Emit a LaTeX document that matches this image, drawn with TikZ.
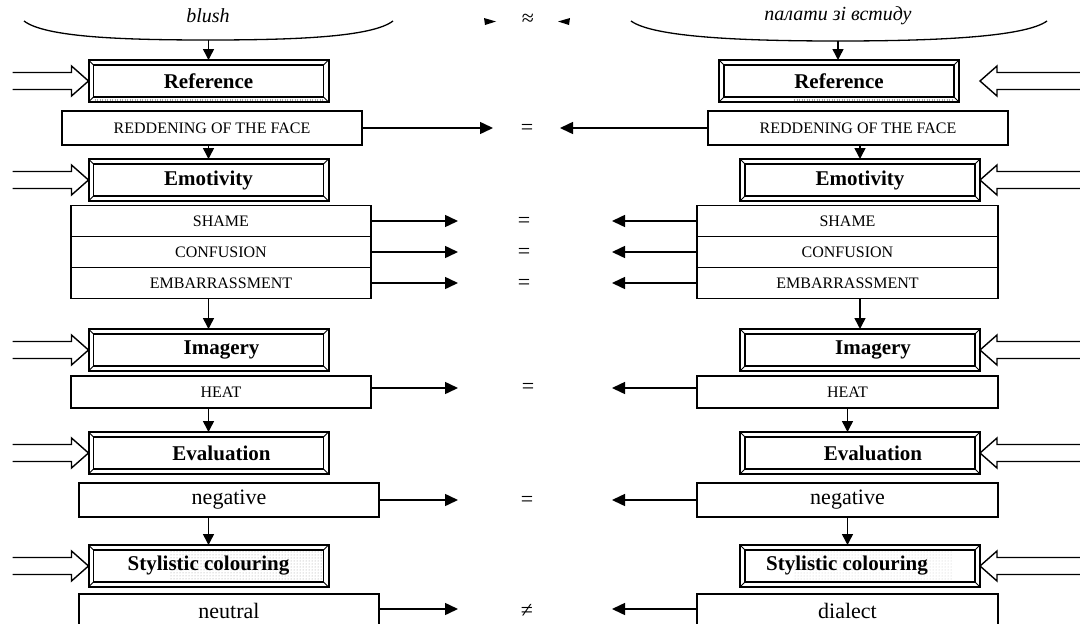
\documentclass[tikz,border=0pt]{standalone}
\usepackage{fontspec}
\setmainfont{Liberation Serif}
\usetikzlibrary{arrows.meta,calc,patterns,backgrounds}

\tikzset{
  header/.style={draw, line width=2pt, outer sep=0pt, minimum width=240pt, minimum height=42pt,
    inner sep=0pt, font=\fontsize{21}{24}\selectfont\bfseries},
  itembox/.style={draw, line width=1.5pt, outer sep=0pt, minimum width=300pt, inner sep=0pt},
  caps/.style={itembox, minimum height=31pt, font=\fontsize{16}{18}\selectfont},
  word/.style={itembox, minimum height=34pt, font=\fontsize{22}{24}\selectfont},
  link/.style={line width=1.5pt, -{Triangle[length=13pt,width=12pt]}},
  down/.style={line width=1.5pt, -{Triangle[length=11pt,width=11pt]}},
  hollow/.style={line width=1.4pt},
  rel/.style={font=\fontsize{22}{24}\selectfont, inner sep=0pt},
  term/.style={font=\fontsize{20}{22}\selectfont\itshape, inner sep=0pt},
  brace/.style={line width=1.3pt},
}

% inner frame and corner bevels of a header box
\newcommand\bevel[1]{%
  \draw[line width=1.2pt] ([shift={(5pt,-5pt)}]#1.north west) rectangle ([shift={(-5pt,5pt)}]#1.south east);
  \draw[line width=1pt] (#1.north west) -- ++(5pt,-5pt) (#1.north east) -- ++(-5pt,-5pt)
    (#1.south west) -- ++(5pt,5pt) (#1.south east) -- ++(-5pt,5pt);}
% hollow double arrow coming in from the left edge
\newcommand\feedL[1]{%
  \draw[hollow] ([shift={(-76pt,8.5pt)}]#1) -- ++(59pt,0pt) -- ++(0pt,6.5pt) -- (#1)
    -- ++(-17pt,-15pt) -- ++(0pt,6.5pt) -- ++(-59pt,0pt);}
% hollow double arrow coming in from the right edge
\newcommand\feedR[1]{%
  \draw[hollow] ([shift={(100pt,8.5pt)}]#1) -- ++(-83pt,0pt) -- ++(0pt,6.5pt) -- (#1)
    -- ++(17pt,-15pt) -- ++(0pt,6.5pt) -- ++(83pt,0pt);}

\begin{document}
\begin{tikzpicture}[x=1pt,y=-1pt]
\useasboundingbox (0,0) rectangle (1080,624);
\clip (0,0) rectangle (1080,624);

% ---- terms and braces ----
\node[term] (t1) at (208,16) {blush};
\node[term] (t2) at (838,16) {палати зі встиду};
\draw[brace] (24,21) .. controls (45,37) and (120,40) .. (208,40) .. controls (296,40) and (372,37) .. (393,21);
\draw[brace] (631,21) .. controls (653,37) and (740,41) .. (838,41) .. controls (936,41) and (1025,37) .. (1047,21);
\coordinate (b1) at (208.5,40);
\coordinate (b2) at (838,41);

\node[rel] (approx) at (528,20) {≈};
\fill (484,18) -- (496,21.5) -- (485,25) -- cycle;
\fill (570,18) -- (558,21.5) -- (569,25) -- cycle;

% ---- left column ----
\node[header] (ref1) at (208.5,81) {Reference};
\node[caps, minimum height=34pt] (red1) at (212,128) {REDDENING OF THE FACE};
\node[header] (emo1) at (208.5,180) {Emotivity};
\node[caps] (sh1) at (221,221) {SHAME};
\node[caps] (con1) at (221,252) {CONFUSION};
\node[caps] (emb1) at (221,283) {EMBARRASSMENT};
\node[header] (img1) at (208.5,350) {\hspace*{26pt}Imagery};
\node[caps, minimum height=32pt] (heat1) at (221,392) {HEAT};
\node[header] (eva1) at (208.5,453) {\hspace*{26pt}Evaluation};
\node[word] (neg1) at (229,500) {negative};
\node[header] (sty1) at (208.5,566) {Stylistic colouring};
\node[word] (neu1) at (229,611) {neutral};

% ---- right column ----
\node[header] (ref2) at (839,81) {Reference};
\node[caps, minimum height=34pt] (red2) at (858,128) {REDDENING OF THE FACE};
\node[header] (emo2) at (860,180) {Emotivity};
\node[caps, minimum width=301pt] (sh2) at (847.5,221) {SHAME};
\node[caps, minimum width=301pt] (con2) at (847.5,252) {CONFUSION};
\node[caps, minimum width=301pt] (emb2) at (847.5,283) {EMBARRASSMENT};
\node[header] (img2) at (860,350) {\hspace*{26pt}Imagery};
\node[caps, minimum width=301pt, minimum height=32pt] (heat2) at (847.5,392) {HEAT};
\node[header] (eva2) at (860,453) {\hspace*{26pt}Evaluation};
\node[word, minimum width=301pt] (neg2) at (847.5,500) {negative};
\node[header] (sty2) at (860,566) {Stylistic colouring\hspace*{26pt}};
\node[word, minimum width=301pt] (dia2) at (847.5,611) {dialect};

% shading inside some header frames
\begin{scope}[on background layer]
  \fill[pattern=dots, pattern color=gray!80] (169,550) rectangle (322,582);
  \fill[pattern=dots, pattern color=gray!45] (793,550) rectangle (952,582);
\end{scope}
\draw[gray!70, line width=2pt, dash pattern=on 1pt off 1.5pt]
  ([shift={(6pt,2.5pt)}]ref1.south west) -- ([shift={(-6pt,2.5pt)}]ref1.south east);
\draw[gray!70, line width=2pt, dash pattern=on 1pt off 1.5pt]
  ([shift={(-45pt,2.5pt)}]ref2.south) -- ([shift={(-6pt,2.5pt)}]ref2.south east);

\foreach \n in {ref1,emo1,img1,eva1,sty1,ref2,emo2,img2,eva2,sty2}{\bevel{\n}}

% ---- incoming hollow arrows ----
\foreach \n in {ref1,emo1,img1,eva1,sty1}{\feedL{\n.west}}
\coordinate (r2tip) at (ref2.east -| emo2.east);
\feedR{r2tip}
\foreach \n in {emo2,img2,eva2,sty2}{\feedR{\n.east}}

% ---- vertical flow ----
\draw[down] (b1) -- (ref1.north);
\draw[down] (red1.south -| emo1.north) -- (emo1.north);
\draw[down] (emb1.south -| img1.north) -- (img1.north);
\draw[down] (heat1.south -| eva1.north) -- (eva1.north);
\draw[down] (neg1.south -| sty1.north) -- (sty1.north);
\draw[down] (b2) -- (b2 |- ref2.north);
\draw[down] (red2.south -| emo2.north) -- (emo2.north);
\draw[down] (emb2.south -| img2.north) -- (img2.north);
\draw[down] (heat2.south) -- (heat2.south |- eva2.north);
\draw[down] (neg2.south) -- (neg2.south |- sty2.north);

% ---- comparison signs and arrows towards them ----
\node[rel] (eq0) at (527,129) {=};
\node[rel] (eq1) at (524,222) {=};
\node[rel] (eq2) at (524,253) {=};
\node[rel] (eq3) at (524,284) {=};
\node[rel] (eq4) at (528,388) {=};
\node[rel] (eq5) at (527,501) {=};
\node[rel] (ne6) at (527,611) {≠};

\coordinate (l0) at (493,128);  \coordinate (r0) at (560,128);
\draw[link] (red1.east) -- (l0);
\draw[link] (red2.west) -- (r0);
\foreach \n/\y in {sh/221,con/252,emb/283}{
  \draw[link] (\n1.east) -- (458,\y);
  \draw[link] (\n2.west) -- (612,\y);}
\coordinate (lh) at (458,388); \coordinate (rh) at (612,388);
\draw[link] (heat1.east |- lh) -- (lh);
\draw[link] (heat2.west |- rh) -- (rh);
\coordinate (ln) at (458,500); \coordinate (rn) at (612,500);
\draw[link] (neg1.east) -- (ln);
\draw[link] (neg2.west) -- (rn);
\coordinate (lu) at (458,609); \coordinate (ru) at (612,609);
\draw[link] (neu1.east |- lu) -- (lu);
\draw[link] (dia2.west |- ru) -- (ru);
\end{tikzpicture}
\end{document}
